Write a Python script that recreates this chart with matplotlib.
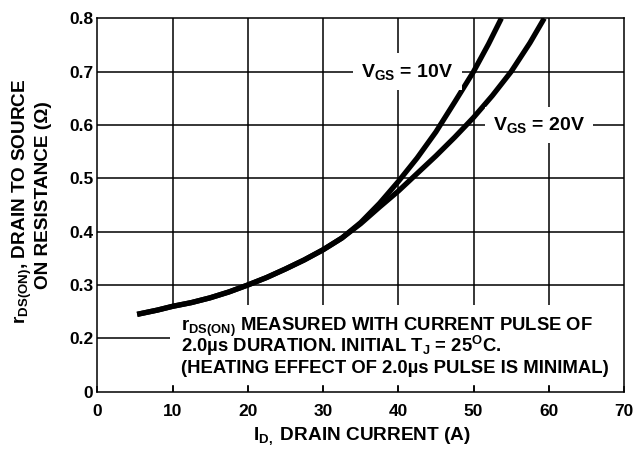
import matplotlib
matplotlib.use("Agg")
import matplotlib.pyplot as plt
from matplotlib.patches import Rectangle

plt.rcParams['font.family'] = ['Liberation Sans', 'DejaVu Sans']
plt.rcParams['font.weight'] = 'bold'
plt.rcParams['mathtext.fontset'] = 'custom'
plt.rcParams['mathtext.rm'] = 'Liberation Sans:bold'
plt.rcParams['mathtext.it'] = 'Liberation Sans:bold'
plt.rcParams['mathtext.bf'] = 'Liberation Sans:bold'

# drain current (A) vs r_DS(on) (ohm)
id_10v = [5.3, 8, 10, 12.5, 15, 17.5, 20, 22.5, 25, 27.5, 30, 32.5, 35,
          37.5, 40, 42.5, 45, 47.5, 50, 52, 53.7]
r_10v = [0.245, 0.253, 0.26, 0.267, 0.276, 0.287, 0.30, 0.314, 0.33, 0.347, 0.366, 0.388, 0.417,
         0.453, 0.494, 0.538, 0.587, 0.643, 0.70, 0.752, 0.80]

id_20v = [5.3, 8, 10, 12.5, 15, 17.5, 20, 22.5, 25, 27.5, 30, 32.5, 35,
          37.5, 40, 42.5, 45, 47.5, 50, 52.5, 55, 57.5, 59.4]
r_20v = [0.245, 0.253, 0.26, 0.267, 0.276, 0.287, 0.30, 0.314, 0.33, 0.347, 0.366, 0.388, 0.415,
         0.446, 0.476, 0.509, 0.542, 0.577, 0.614, 0.655, 0.70, 0.754, 0.80]

x_ticks = [0, 10, 20, 30, 40, 50, 60, 70]
y_ticks = [0.1, 0.2, 0.3, 0.4, 0.5, 0.6, 0.7, 0.8]
y_labels = ['0', '0.2', '0.3', '0.4', '0.5', '0.6', '0.7', '0.8']

fig = plt.figure(figsize=(6.33, 4.5), dpi=100)
ax = fig.add_axes([0.1537, 0.1296, 0.8321, 0.8297])

ax.set_xlim(0, 70)
ax.set_ylim(0.1, 0.8)

for gx in x_ticks[1:-1]:
    ax.axvline(gx, color='black', lw=1.1, zorder=1)
for gy in y_ticks[1:-1]:
    ax.axhline(gy, color='black', lw=1.1, zorder=1)

# white area behind the note
ax.add_patch(Rectangle((9.7, 0.1127), 60.3, 0.150, facecolor='white',
                       edgecolor='none', zorder=2))

ax.plot(id_10v, r_10v, color='black', lw=3.8, solid_capstyle='butt', zorder=3)
ax.plot(id_20v, r_20v, color='black', lw=3.8, solid_capstyle='butt', zorder=3)

ax.text(41.2, 0.70, r'$\mathrm{V_{GS}}$ = 10V', fontsize=14, ha='center', va='center',
        zorder=4, bbox=dict(facecolor='white', edgecolor='none', pad=6))
ax.text(58.7, 0.600, r'$\mathrm{V_{GS}}$ = 20V', fontsize=14, ha='center', va='center',
        zorder=4, bbox=dict(facecolor='white', edgecolor='none', pad=6))

ax.text(11.1, 0.2138, r'$\mathrm{r_{DS(ON)}}$ MEASURED WITH CURRENT PULSE OF',
        fontsize=13.3, ha='left', va='baseline', zorder=4)
ax.text(11.1, 0.1740, r'2.0µs DURATION. INITIAL $\mathrm{T_J}$ = 25$\mathrm{^{O}}$C.',
        fontsize=13.3, ha='left', va='baseline', zorder=4)
ax.text(11.1, 0.1351, '(HEATING EFFECT OF 2.0µs PULSE IS MINIMAL)',
        fontsize=13.3, ha='left', va='baseline', zorder=4)

ax.set_axisbelow(False)
ax.set_xticks(x_ticks)
ax.set_yticks(y_ticks)
ax.set_yticklabels(y_labels)
ax.tick_params(axis='x', direction='in', length=4, width=1.1, pad=9, labelsize=12.5)
ax.tick_params(axis='y', length=0, pad=3, labelsize=12.5)
for s in ax.spines.values():
    s.set_linewidth(1.1)

fig.text(0.572, 1 - 436 / 450, r'$\mathrm{I_{D,}}$ DRAIN CURRENT (A)', fontsize=13.7,
         ha='center', va='center')
fig.text(0.036, 0.553, r'$\mathrm{r_{DS(ON)}}$, DRAIN TO SOURCE', fontsize=13.7,
         ha='center', va='center', rotation=90)
fig.text(0.068, 0.566, 'ON RESISTANCE (Ω)', fontsize=13.7,
         ha='center', va='center', rotation=90)

fig.savefig('out.png', dpi=100)
